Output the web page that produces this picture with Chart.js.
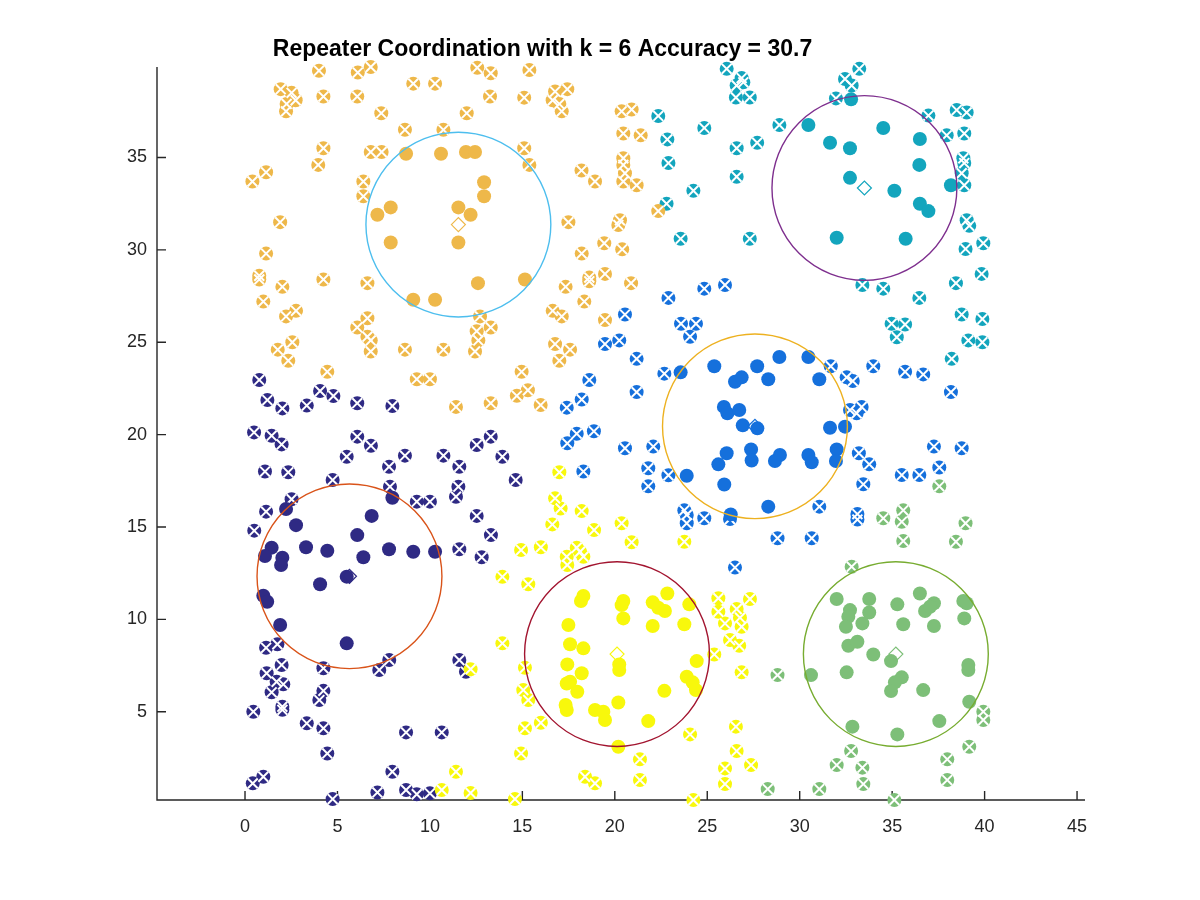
<!DOCTYPE html>
<html><head><meta charset="utf-8">
<script src="https://cdn.jsdelivr.net/npm/chart.js@4.4.1/dist/chart.umd.min.js"></script>
<style>html,body{margin:0;padding:0;background:#fff}canvas{display:block}</style>
</head><body>
<canvas id="c" width="1200" height="900"></canvas>
<script>
// ---- data ----
const titleText = 'Repeater Coordination with k = 6 Accuracy = 30.7';
const xTicks = [0,5,10,15,20,25,30,35,40,45];
const yTicks = [5,10,15,20,25,30,35];
const xRange = [-4.76, 45.43];
const yRange = [0.22, 39.9];

const clusterColors = ['#2f2a84','#1570dc','#13a5bd','#7dbf78','#eeb84a','#f8f80c'];
const circleColors  = ['#D95319','#EDB120','#7E2F8E','#77AC30','#4DBEEE','#A2142F'];
const circleCenters = [[5.65,12.33],[27.58,20.45],[33.5,33.35],[35.2,8.12],[11.54,31.37],[20.12,8.12]];
const circleRadius  = [5,5,5,5,5,5];

const navyIn = [[2.22,15.97],[2.76,15.1],[6.85,15.6],[6.07,14.56],[1.44,13.88],[1.08,13.43],[2.02,13.34],[1.95,12.94],[3.3,13.9],[4.45,13.71],[6.4,13.36],[7.79,13.79],[9.1,13.66],[10.28,13.66],[5.5,12.31],[4.06,11.9],[0.99,11.28],[1.2,10.95],[1.9,9.69],[5.5,8.7],[7.97,16.58]];
const navyOut = [[0.49,20.12],[1.44,19.94],[1.98,19.47],[6.07,19.89],[6.81,19.4],[5.5,18.8],[7.79,18.26],[8.65,18.86],[10.73,18.86],[11.59,18.26],[12.53,19.44],[13.29,19.89],[13.92,18.8],[14.64,17.54],[1.08,18.0],[2.34,17.96],[4.74,17.54],[7.84,17.18],[11.54,17.18],[11.41,16.64],[9.29,16.37],[10.0,16.37],[2.52,16.5],[1.14,15.83],[0.5,14.8],[12.53,15.6],[11.59,13.79],[13.3,14.56],[12.8,13.36],[1.14,8.46],[1.75,8.65],[1.98,7.53],[1.17,7.08],[1.71,6.62],[2.07,6.48],[1.44,6.05],[2.02,5.27],[2.02,5.1],[0.45,5.0],[4.24,7.35],[4.24,6.13],[4.02,5.63],[7.26,7.26],[7.8,7.8],[11.59,7.8],[11.95,7.16],[3.34,4.37],[4.24,4.1],[8.71,3.88],[10.64,3.88],[4.45,2.74],[0.42,1.12],[0.99,1.48],[4.74,0.27],[7.16,0.63],[7.97,1.75],[8.71,0.76],[9.29,0.53],[10.0,0.58],[0.77,22.96],[1.21,21.87],[2.02,21.42],[3.34,21.57],[4.06,22.36],[4.78,22.09],[6.07,21.7],[7.97,21.55]];

const blueIn = [[23.56,23.37],[25.38,23.7],[27.7,23.7],[28.9,24.2],[26.5,22.86],[26.86,23.1],[28.3,23.0],[25.9,21.5],[26.09,21.15],[26.73,21.33],[26.92,20.5],[27.71,20.34],[30.47,24.2],[31.06,23.0],[31.64,20.37],[32.45,20.43],[30.47,18.9],[30.65,18.5],[32.0,19.2],[31.96,18.57],[28.93,18.9],[26.05,18.99],[25.6,18.39],[27.37,19.2],[27.4,18.6],[28.66,18.57],[23.89,17.77],[25.92,17.3],[28.3,16.1],[26.27,15.68]];
const blueOut = [[25.96,28.1],[24.84,27.9],[22.9,27.4],[20.55,26.5],[23.58,26.0],[24.39,26.0],[24.07,25.3],[19.47,24.9],[20.24,25.1],[21.18,24.1],[22.68,23.3],[18.62,22.96],[21.18,22.3],[17.4,21.46],[18.21,21.9],[17.94,20.05],[18.87,20.18],[17.43,19.53],[20.55,19.26],[22.08,19.35],[18.3,18.0],[21.81,18.18],[21.81,17.2],[22.9,17.8],[23.76,15.9],[23.89,15.65],[23.89,15.2],[24.84,15.47],[26.23,15.43],[28.8,14.39],[26.5,12.8],[31.68,23.7],[32.54,23.1],[32.87,22.9],[33.98,23.7],[35.7,23.4],[36.68,23.26],[38.18,22.3],[32.72,21.33],[33.35,21.5],[33.08,21.15],[33.2,18.99],[33.76,18.39],[37.26,19.35],[38.76,19.26],[37.55,18.22],[35.52,17.81],[36.47,17.81],[33.44,17.31],[31.06,16.1],[33.12,15.7],[33.12,15.4],[30.65,14.39]];

const tealIn = [[32.78,38.15],[30.47,36.76],[31.64,35.8],[32.72,35.5],[34.52,36.6],[36.5,36.0],[36.47,34.6],[32.72,33.9],[35.12,33.2],[36.5,32.5],[36.96,32.1],[38.18,33.5],[32.0,30.66],[35.73,30.6]];
const tealOut = [[26.05,39.8],[26.86,39.3],[26.59,38.9],[26.95,39.07],[26.55,38.25],[27.3,38.25],[22.35,37.25],[24.84,36.6],[28.9,36.76],[22.84,35.98],[26.59,35.5],[27.7,35.8],[22.9,34.7],[26.59,33.96],[24.25,33.2],[22.8,32.5],[23.56,30.6],[27.3,30.6],[33.22,39.8],[32.45,39.25],[32.81,38.9],[31.96,38.2],[36.96,37.27],[38.49,37.57],[39.03,37.44],[37.95,36.2],[38.9,36.3],[38.85,34.96],[38.9,34.7],[38.76,34.15],[38.9,33.5],[39.03,31.6],[39.17,31.3],[38.97,30.05],[39.93,30.36],[39.84,28.7],[38.45,28.2],[33.39,28.1],[34.52,27.9],[36.47,27.4],[34.97,26.0],[35.7,25.96],[35.25,25.27],[38.76,26.5],[39.88,26.26],[39.12,25.1],[39.88,25.0],[38.22,24.1]];

const greenIn = [[32.0,11.1],[33.76,11.1],[32.72,10.5],[32.63,10.14],[32.5,9.6],[33.76,10.37],[33.39,9.78],[35.28,10.81],[36.5,11.4],[36.78,10.45],[37.26,10.87],[37.05,10.68],[35.6,9.73],[37.26,9.64],[38.85,10.99],[39.03,10.87],[38.9,10.05],[32.63,8.57],[33.12,8.79],[33.98,8.1],[34.94,7.74],[39.12,7.53],[39.12,7.26],[30.61,6.98],[32.54,7.13],[35.52,6.86],[35.15,6.59],[34.94,6.12],[36.68,6.17],[39.17,5.54],[37.55,4.49],[32.85,4.19],[35.28,3.77]];
const greenOut = [[37.55,17.2],[34.52,15.47],[35.6,15.9],[35.52,15.28],[35.6,14.24],[38.97,15.2],[38.45,14.2],[32.81,12.85],[28.8,6.98],[39.93,5.0],[39.93,4.55],[39.17,3.1],[32.78,2.87],[32.0,2.11],[33.39,1.97],[33.44,1.08],[31.06,0.81],[35.12,0.22],[37.98,2.42],[37.98,1.3],[28.27,0.81]];

const orangeIn = [[8.71,35.2],[10.6,35.2],[11.95,35.3],[12.44,35.3],[7.16,31.9],[7.88,32.3],[11.54,32.3],[12.2,31.9],[7.88,30.4],[11.54,30.4],[9.1,27.3],[10.28,27.3],[12.6,28.2],[12.93,33.66],[12.93,32.9],[15.14,28.4]];
const orangeOut = [[4.0,39.7],[6.1,39.6],[6.8,39.9],[1.93,38.7],[2.52,38.5],[2.74,38.1],[2.25,37.9],[2.22,37.5],[4.24,38.3],[6.07,38.3],[9.1,39.0],[10.28,39.0],[7.37,37.4],[11.99,37.4],[8.65,36.5],[10.73,36.5],[4.24,35.5],[3.96,34.6],[6.8,35.3],[7.39,35.3],[0.4,33.7],[1.14,34.2],[6.4,33.7],[6.4,32.9],[1.9,31.5],[1.14,29.8],[0.77,28.6],[0.77,28.4],[2.02,28.0],[4.24,28.4],[6.62,28.2],[0.99,27.2],[2.22,26.4],[2.76,26.7],[6.62,26.3],[6.07,25.8],[6.62,25.3],[6.8,25.1],[6.8,24.5],[1.77,24.6],[2.56,25.0],[2.34,24.0],[8.65,24.6],[10.73,24.6],[4.45,23.4],[9.29,23.0],[10.0,23.0],[11.41,21.5],[12.56,39.86],[13.29,39.56],[15.38,39.74],[13.25,38.3],[15.1,38.24],[16.77,38.57],[17.43,38.7],[16.64,38.1],[17.0,37.9],[17.13,37.5],[20.37,37.5],[20.91,37.6],[20.46,36.3],[21.4,36.2],[15.1,35.5],[15.38,34.6],[18.2,34.3],[18.93,33.7],[20.46,34.96],[20.46,34.6],[20.55,34.15],[20.46,33.7],[21.18,33.5],[22.35,32.1],[17.49,31.5],[20.28,31.6],[20.19,31.35],[19.43,30.36],[20.4,30.03],[18.21,29.8],[18.62,28.5],[18.62,28.3],[19.47,28.7],[20.88,28.2],[17.34,28.0],[18.35,27.2],[12.71,26.4],[13.29,25.8],[12.53,25.6],[12.62,25.1],[12.44,24.5],[16.64,26.7],[17.13,26.4],[19.47,26.2],[16.77,24.9],[17.58,24.6],[17.0,24.0],[14.96,23.4],[14.7,22.1],[15.3,22.4],[15.99,21.6],[13.29,21.7]];

const yellowIn = [[18.3,11.27],[18.17,10.99],[20.46,10.99],[20.37,10.77],[20.46,10.05],[22.05,10.92],[22.35,10.63],[22.71,10.45],[22.84,11.4],[24.03,10.81],[22.05,9.64],[23.76,9.73],[17.49,9.69],[17.58,8.65],[18.3,8.43],[20.24,7.56],[20.24,7.26],[17.43,7.56],[18.21,7.08],[24.43,7.74],[17.4,6.53],[17.58,6.62],[17.97,6.08],[23.89,6.89],[24.21,6.59],[24.39,6.17],[22.68,6.13],[17.34,5.36],[17.4,5.09],[20.19,5.5],[18.93,5.09],[19.38,5.0],[19.47,4.55],[21.81,4.49],[20.19,3.1]];
const yellowOut = [[17.0,17.96],[16.77,16.55],[17.07,16.0],[18.21,15.86],[16.62,15.14],[18.88,14.83],[20.37,15.2],[20.91,14.17],[23.76,14.2],[14.93,13.75],[16.0,13.9],[17.4,13.39],[17.43,12.94],[17.94,13.88],[18.3,13.39],[18.12,13.66],[13.92,12.3],[15.32,11.9],[12.2,7.3],[13.92,8.7],[15.14,7.38],[15.05,6.17],[15.32,5.63],[16.0,4.4],[15.14,4.1],[14.93,2.74],[12.2,0.6],[14.6,0.27],[18.39,1.48],[18.93,1.12],[21.36,2.42],[21.36,1.3],[24.07,3.77],[24.25,0.22],[25.6,11.14],[25.6,10.41],[25.96,9.78],[26.59,10.56],[26.77,10.09],[26.86,9.6],[27.31,11.1],[26.23,8.88],[26.73,8.57],[25.38,8.1],[26.86,7.13],[26.55,4.19],[26.59,2.87],[27.37,2.11],[25.96,1.93],[25.96,1.08],[11.41,1.75],[10.64,0.76]];

const clusterIn  = [navyIn, blueIn, tealIn, greenIn, orangeIn, yellowIn];
const clusterOut = [navyOut, blueOut, tealOut, greenOut, orangeOut, yellowOut];

// ---- build ----
const toXY = a => a.map(p => ({x:p[0], y:p[1]}));
const MR = 7;
const datasets = [];
clusterIn.forEach((inPts, i) => {
  const col = clusterColors[i];
  datasets.push({data: toXY(clusterOut[i]), pointStyle:'circle', pointRadius:MR, pointHoverRadius:MR,
    pointBackgroundColor:col, pointBorderColor:col, pointBorderWidth:0, clip:false});
  datasets.push({data: toXY(clusterOut[i]), pointStyle:'crossRot', pointRadius:MR, pointHoverRadius:MR,
    pointBackgroundColor:'#ffffff', pointBorderColor:'#ffffff', pointBorderWidth:2, clip:false});
  datasets.push({data: toXY(inPts), pointStyle:'circle', pointRadius:MR, pointHoverRadius:MR,
    pointBackgroundColor:col, pointBorderColor:col, pointBorderWidth:0, clip:false});
});
datasets.push({data: toXY(circleCenters), pointStyle:'rectRot', pointRadius:7, pointHoverRadius:7,
  pointBackgroundColor:'rgba(0,0,0,0)', pointBorderColor:clusterColors, pointBorderWidth:1.2, clip:false});
// later datasets are drawn on top
datasets.forEach((d, i) => { d.order = datasets.length - i; });

const axisColor = '#262626';
const axesPlugin = {
  id:'axesPlugin',
  beforeDatasetsDraw(chart){
    const {ctx, chartArea:a, scales:{x,y}} = chart;
    ctx.save();
    ctx.strokeStyle = axisColor; ctx.lineWidth = 1.4;
    ctx.beginPath();
    ctx.moveTo(a.left, a.top); ctx.lineTo(a.left, a.bottom); ctx.lineTo(a.right, a.bottom);
    xTicks.forEach(v => { const px = x.getPixelForValue(v); ctx.moveTo(px, a.bottom); ctx.lineTo(px, a.bottom - 9); });
    yTicks.forEach(v => { const py = y.getPixelForValue(v); ctx.moveTo(a.left, py); ctx.lineTo(a.left + 9, py); });
    ctx.stroke();
    ctx.restore();
  },
  afterDatasetsDraw(chart){
    const {ctx, scales:{x,y}} = chart;
    ctx.save();
    circleCenters.forEach((c, i) => {
      const cx = x.getPixelForValue(c[0]), cy = y.getPixelForValue(c[1]);
      const rx = x.getPixelForValue(c[0] + circleRadius[i]) - cx;
      const ry = cy - y.getPixelForValue(c[1] + circleRadius[i]);
      ctx.beginPath(); ctx.ellipse(cx, cy, rx, ry, 0, 0, Math.PI*2);
      ctx.strokeStyle = circleColors[i]; ctx.lineWidth = 1.4; ctx.stroke();
    });
    ctx.restore();
  }
};

const tickFont = {family:'"Liberation Sans", Arial, Helvetica, sans-serif', size:18};
new Chart(document.getElementById('c'), {
  type:'scatter',
  data:{datasets},
  options:{
    responsive:false, animation:false, devicePixelRatio:1,
    layout:{padding:{left:0, right:115, top:0, bottom:0}},
    plugins:{
      legend:{display:false}, tooltip:{enabled:false},
      title:{display:true, text:titleText, color:'#000',
        font:{family:'"Liberation Sans", Arial, Helvetica, sans-serif', size:23, weight:'bold'},
        padding:{top:36, bottom:3.4}}
    },
    scales:{
      x:{type:'linear', min:xRange[0], max:xRange[1],
        afterBuildTicks: s => { s.ticks = xTicks.map(v => ({value:v})); },
        afterFit: s => { s.height = 100; },
        grid:{display:false}, border:{display:false},
        ticks:{color:axisColor, font:tickFont, padding:8, maxRotation:0, autoSkip:false}},
      y:{type:'linear', min:yRange[0], max:yRange[1],
        afterBuildTicks: s => { s.ticks = yTicks.map(v => ({value:v})); },
        afterFit: s => { s.width = 157; },
        grid:{display:false}, border:{display:false},
        ticks:{color:axisColor, font:tickFont, padding:2, autoSkip:false}}
    }
  },
  plugins:[axesPlugin]
});
</script></body></html>
